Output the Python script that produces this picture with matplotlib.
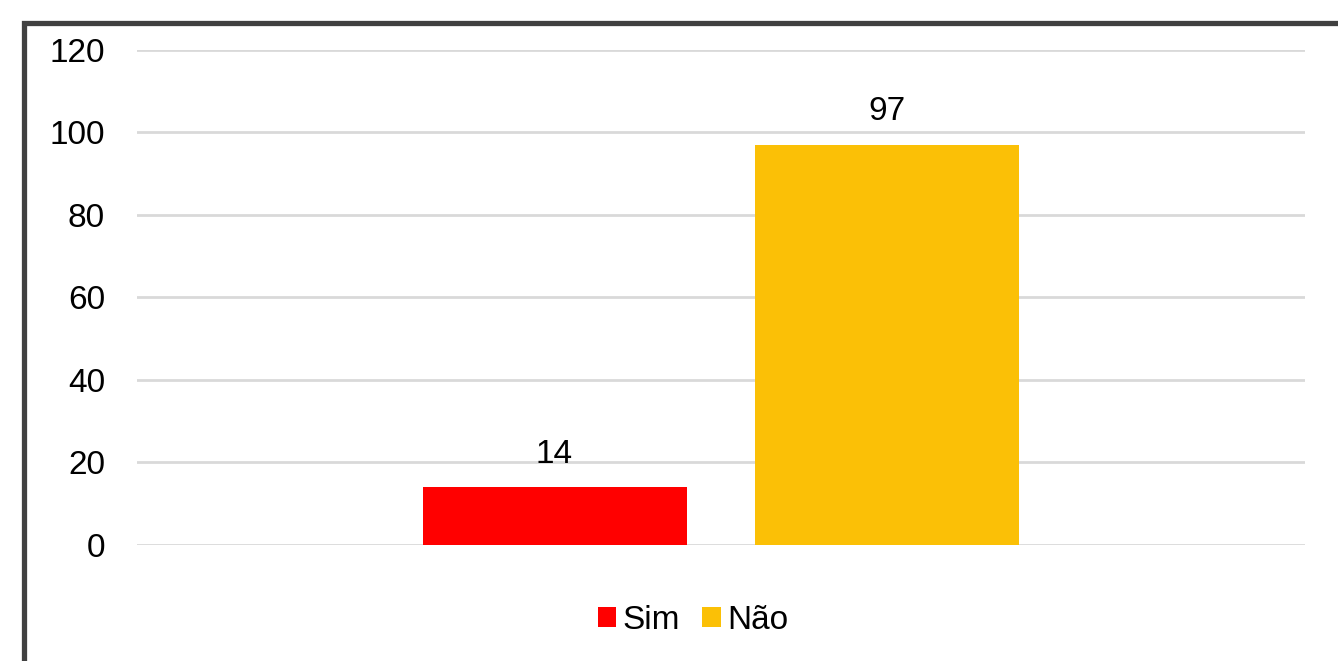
import matplotlib.pyplot as plt
from matplotlib.patches import Rectangle

series = ["Sim", "Não"]
values = [14, 97]
colors = ["#FF0000", "#FBC006"]
yticks = [0, 20, 40, 60, 80, 100, 120]

plt.rcParams["font.family"] = ["Liberation Sans", "DejaVu Sans"]

fig = plt.figure(figsize=(13.38, 6.61), dpi=100)
ax = fig.add_axes([0.1024, 0.1755, 0.8729, 0.7489])

width = 0.226
offsets = [-0.1425, 0.1425]
for name, val, col, off in zip(series, values, colors, offsets):
    ax.bar(off, val, width=width, color=col, label=name, zorder=3)
    ax.annotate(str(val), (off, val), xytext=(0, 12.5), textcoords="offset points",
                ha="center", va="bottom", fontsize=24)

ax.set_xlim(-0.5, 0.5)
ax.set_ylim(0, 120)
ax.set_yticks(yticks)
ax.set_xticks([])
ax.tick_params(axis="y", length=0, pad=23, labelsize=24)
ax.grid(axis="y", color="#D9D9D9", linewidth=2, zorder=0)
for s in ax.spines.values():
    s.set_visible(False)

ax.legend(loc="center", bbox_to_anchor=(0.476, -0.153), ncol=2, frameon=False,
          fontsize=24, handlelength=0.55, handleheight=0.55, handletextpad=0.18,
          columnspacing=0.68)

# outer chart border (runs off the right and bottom edges)
fig.patches.append(Rectangle((24 / 1338, -0.05), 1.1, 1 - 22.5 / 661 + 0.05,
                             transform=fig.transFigure, fill=False,
                             edgecolor="#404040", linewidth=3.8))

fig.savefig("out.png", dpi=100)
